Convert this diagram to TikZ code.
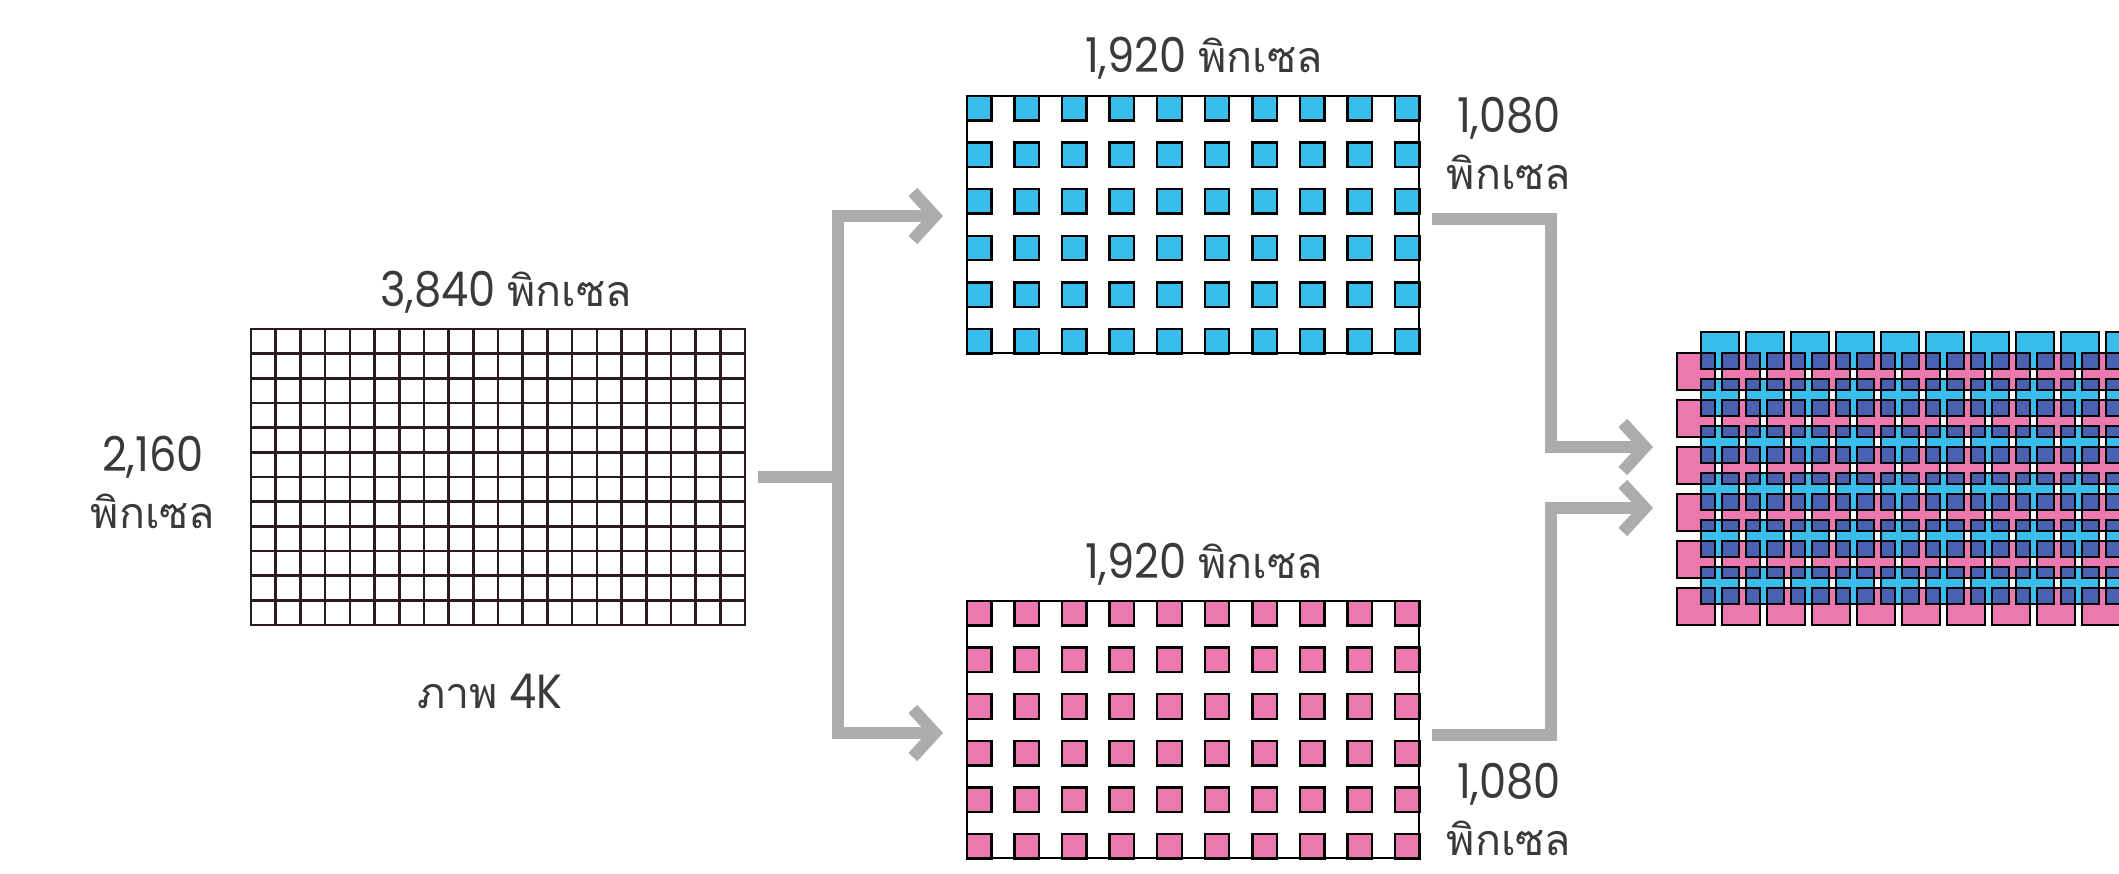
\documentclass[tikz,border=0pt]{standalone}
\usepackage{fontspec}
\setmainfont{Poppins}[FakeStretch=0.9]
\newfontfamily\thaifont[Script=Thai]{Loma}
\usetikzlibrary{arrows.meta}
\definecolor{cblue}{HTML}{38BDEC}
\definecolor{cpink}{HTML}{EC78B0}
\definecolor{cdark}{HTML}{4A60B0}
\definecolor{cgray}{HTML}{AAACAD}
\definecolor{cline}{HTML}{2A1C1C}
\definecolor{ctext}{HTML}{3A3A3A}
\newcommand\thtxt[1]{{\thaifont\fontsize{43}{56}\selectfont #1}}
\begin{document}
\begin{tikzpicture}[x=1pt,y=-1pt,
  box/.style={draw=none,inner sep=0pt,outer sep=0pt,anchor=north west},
  lbl/.style={text=ctext,font=\fontsize{48}{57}\selectfont,inner sep=0pt,align=center,anchor=base},
  conn/.style={draw=cgray,line width=12pt,line join=miter,line cap=butt},
  tip/.style={-{Straight Barb[length=22pt,width=48pt,line width=12pt]}},
  cell/.style={draw=black,line width=2.4pt},
  gridline/.style={draw=cline,line width=2.6pt},
]
\fill[white] (0,0) rectangle (2119,874);
\useasboundingbox (0,0) rectangle (2119,874);

% 4K grid
\node[box,minimum width=494pt,minimum height=296pt] (k4) at (251,329) {};
\foreach \i in {1,...,19} \draw[gridline] (251+\i*24.7,329) -- (251+\i*24.7,625);
\foreach \j in {1,...,11} \draw[gridline] (251,329+\j*24.667) -- (745,329+\j*24.667);
\draw[gridline] (k4.north west) rectangle (k4.south east);

% blue HD grid
\node[box,minimum width=452pt,minimum height=257pt] (hd1) at (967,96) {};
\foreach \i in {0,...,9} \foreach \j in {0,...,5}
  \filldraw[fill=cblue,cell] (967+\i*47.55,96+\j*46.6) rectangle ++(24.5,24.5);
\draw[black,line width=2.6pt] (hd1.north west) rectangle (hd1.south east);

% pink HD grid
\node[box,minimum width=452pt,minimum height=257pt] (hd2) at (967,601) {};
\foreach \i in {0,...,9} \foreach \j in {0,...,5}
  \filldraw[fill=cpink,cell] (967+\i*47.55,601+\j*46.6) rectangle ++(24.5,24.5);
\draw[black,line width=2.6pt] (hd2.north west) rectangle (hd2.south east);

% combined grid
\node[box,minimum width=442pt,minimum height=293pt] (comb) at (1677,332) {};
\begin{scope}
  \clip (0,0) rectangle (2119,874);
  \foreach \i in {0,...,9} \foreach \j in {0,...,5}
    \filldraw[fill=cpink,cell] (1677+\i*45,353+\j*47) rectangle ++(38,37);
  \foreach \i in {0,...,9} \foreach \j in {0,...,5}
    \fill[cblue] (1701+\i*45,332+\j*47) rectangle ++(38,37);
  \begin{scope}
    \path[clip] \foreach \i in {0,...,9}{ \foreach \j in {0,...,5}{ (1701+\i*45,332+\j*47) rectangle ++(38,37) } };
    \foreach \i in {0,...,9} \foreach \j in {0,...,5}
      \filldraw[fill=cdark,cell] (1677+\i*45,353+\j*47) rectangle ++(38,37);
  \end{scope}
  \foreach \i in {0,...,9} \foreach \j in {0,...,5}
    \draw[cell] (1701+\i*45,332+\j*47) rectangle ++(38,37);
\end{scope}

% labels (base anchor = baseline of last line)
\node[lbl] (t4kw) at (506,307) {3,840 \thtxt{พิกเซล}};
\node[lbl] (t4kh) at (153,528) {2,160\\\thtxt{พิกเซล}};
\node[lbl] (t4k) at (490,708) {\thtxt{ภาพ} 4K};
\node[lbl] (t1w) at (1204,73) {1,920 \thtxt{พิกเซล}};
\node[lbl] (t1h) at (1509,190) {1,080\\\thtxt{พิกเซล}};
\node[lbl] (t2w) at (1204,578) {1,920 \thtxt{พิกเซล}};
\node[lbl] (t2h) at (1509,855) {1,080\\\thtxt{พิกเซล}};

% connectors
\coordinate (split) at (838,477);
\coordinate (rv) at (1551,0);
\coordinate (merge1) at ([xshift=-24pt,yshift=31.5pt]comb.west);
\coordinate (merge2) at ([xshift=-24pt,yshift=-29.5pt]comb.west);
\draw[conn] ([xshift=13pt]k4.east) -- (split);
\draw[conn,tip] (split) |- ([xshift=-24pt,yshift=8.5pt]hd1.west);
\draw[conn,tip] (split) |- ([xshift=-24pt,yshift=-3.5pt]hd2.west);
\draw[conn,tip] ([xshift=13pt,yshift=5.5pt]hd1.east) -| (rv |- merge1) -- (merge1);
\draw[conn,tip] ([xshift=13pt,yshift=-5.5pt]hd2.east) -| (rv |- merge2) -- (merge2);
\end{tikzpicture}
\end{document}
